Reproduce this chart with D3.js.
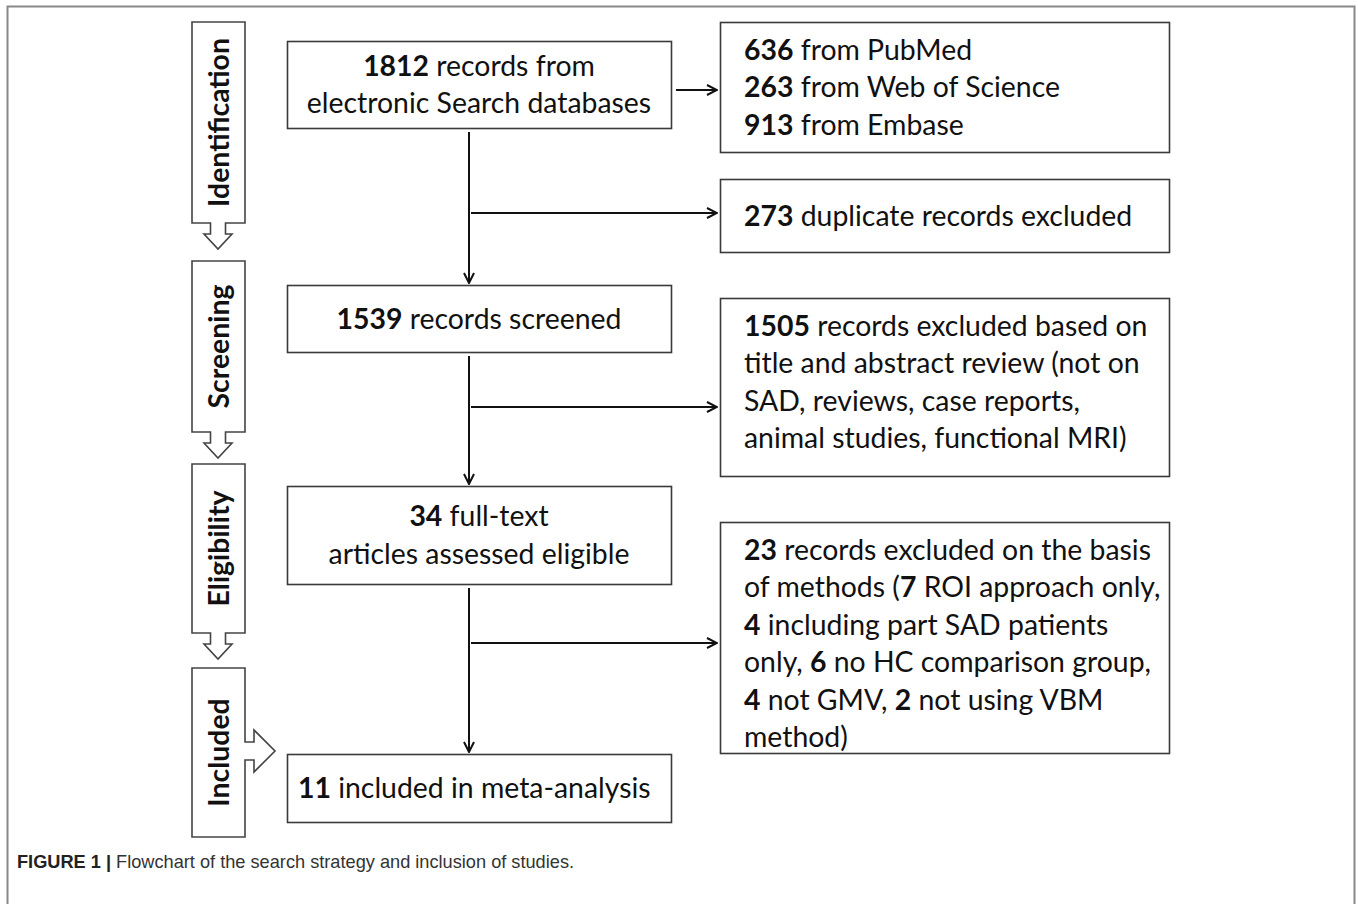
<!DOCTYPE html>
<html>
<head>
<meta charset="utf-8">
<script src="https://cdn.jsdelivr.net/npm/d3@7"></script>
<style>
  body { margin: 0; background: #fff; }
  svg { display: block; }
</style>
</head>
<body>
<div id="chart"></div>
<script>
var width = 1358;
var height = 904;

// stage labels down the left side
var stages = ["Identification", "Screening", "Eligibility", "Included"];

// main flow boxes (** marks bold numbers)
var mainBoxText = [
    ["**1812** records from", "electronic Search databases"],
    ["**1539** records screened"],
    ["**34** full-text", "articles assessed eligible"],
    ["**11** included in meta-analysis"]
];

// side boxes with the exclusions / sources
var sideBoxText = [
    ["**636** from PubMed", "**263** from Web of Science", "**913** from Embase"],
    ["**273** duplicate records excluded"],
    ["**1505** records excluded based on", "title and abstract review (not on",
     "SAD, reviews, case reports,", "animal studies, functional MRI)"],
    ["**23** records excluded on the basis", "of methods (**7** ROI approach only,",
     "**4** including part SAD patients", "only, **6** no HC comparison group,",
     "**4** not GMV, **2** not using VBM", "method)"]
];

var captionBold = "FIGURE 1 |";
var captionText = " Flowchart of the search strategy and inclusion of studies.";

// layout (pixel geometry)
var stageX = [192, 245];
var stageY = [[22, 223], [261, 432], [464, 633], [668, 837]];
var mainX = [287, 671];
var mainY = [[41, 128], [285, 352], [486, 584], [754, 822]];
var sideX = [720, 1169];
var sideY = [[22, 152], [179, 252], [298, 476], [522, 753]];
var flowX = 469;
var branchY = [213, 407, 643];
var lineH = 37.4;
var fontSize = 28.4;
var font = "Lato, 'Open Sans', sans-serif";

var svg = d3.select("#chart")
    .append("svg")
    .attr("width", width)
    .attr("height", height)
    .attr("viewBox", "0 0 " + width + " " + height);

// outer frame
svg.append("path")
    .attr("d", "M7.5," + (height + 5) + "V6.5H1354.5V" + (height + 5))
    .attr("fill", "none")
    .style("stroke", "#888")
    .style("stroke-width", 2);

function addRich(sel, str) {
    str.split("**").forEach(function (part, i) {
        if (!part) return;
        sel.append("tspan")
            .attr("font-weight", i % 2 ? 700 : 400)
            .text(part);
    });
}

function drawBox(x0, x1, y0, y1) {
    svg.append("rect")
        .attr("x", x0 + 0.5).attr("y", y0 + 0.5)
        .attr("width", x1 - x0).attr("height", y1 - y0)
        .attr("fill", "#fff")
        .style("stroke", "#3a3a3a")
        .style("stroke-width", 1.6);
}

function drawLines(lines, x, yFirst, anchor) {
    lines.forEach(function (ln, i) {
        var t = svg.append("text")
            .attr("x", x)
            .attr("y", yFirst + i * lineH)
            .attr("text-anchor", anchor)
            .attr("font-family", font)
            .attr("font-size", fontSize)
            .attr("fill", "#111");
        addRich(t, ln);
    });
}

// stage bars with downward (or rightward) block arrows
stages.forEach(function (name, i) {
    var x0 = stageX[0], x1 = stageX[1], y0 = stageY[i][0], y1 = stageY[i][1];
    var cx = (x0 + x1) / 2 - 0.5;
    var d;
    if (i < stages.length - 1) {
        d = "M" + x0 + "," + y0 + "H" + x1 + "V" + y1 +
            "H" + (cx + 7.5) + "V" + (y1 + 11) + "H" + (cx + 14) +
            "L" + cx + "," + (y1 + 26) + "L" + (cx - 14) + "," + (y1 + 11) +
            "H" + (cx - 7.5) + "V" + y1 + "H" + x0 + "Z";
    } else {
        var my = 751;
        d = "M" + x0 + "," + y0 + "H" + x1 + "V" + (my - 9) +
            "H" + 254 + "V" + (my - 21) + "L" + 275 + "," + my +
            "L" + 254 + "," + (my + 21) + "V" + (my + 9) + "H" + x1 +
            "V" + y1 + "H" + x0 + "Z";
    }
    svg.append("path")
        .attr("d", d)
        .attr("fill", "#fff")
        .style("stroke", "#444")
        .style("stroke-width", 1.6)
        .style("stroke-linejoin", "miter");

    svg.append("text")
        .attr("transform", "translate(" + (x0 + (x1 - x0) / 2 + 10) + "," + ((y0 + y1) / 2) + ") rotate(-90)")
        .attr("text-anchor", "middle")
        .attr("font-family", font)
        .attr("font-weight", 700)
        .attr("font-size", fontSize)
        .attr("fill", "#111")
        .text(name);
});

// arrow marker
svg.append("defs").append("marker")
    .attr("id", "head")
    .attr("viewBox", "0 0 12 12")
    .attr("refX", 11).attr("refY", 6)
    .attr("markerWidth", 12).attr("markerHeight", 12)
    .attr("markerUnits", "userSpaceOnUse")
    .attr("orient", "auto")
    .append("path")
    .attr("d", "M1,1L11,6L1,11")
    .attr("fill", "none")
    .attr("stroke", "#111")
    .attr("stroke-width", 2);

function arrow(x1, y1, x2, y2) {
    svg.append("line")
        .attr("x1", x1).attr("y1", y1)
        .attr("x2", x2).attr("y2", y2)
        .attr("marker-end", "url(#head)")
        .style("stroke", "#111")
        .style("stroke-width", 2);
}

// vertical flow and side branches
for (var i = 0; i < mainY.length - 1; i++) {
    arrow(flowX, mainY[i][1] + 4, flowX, mainY[i + 1][0] - 2);
    arrow(flowX + 2, branchY[i], sideX[0] - 3, branchY[i]);
}
arrow(mainX[1] + 5, 90, sideX[0] - 3, 90);

// main boxes
mainBoxText.forEach(function (lines, i) {
    drawBox(mainX[0], mainX[1], mainY[i][0], mainY[i][1]);
    var mid = (mainY[i][0] + mainY[i][1]) / 2;
    var first = mid + 10 - (lines.length - 1) * lineH / 2;
    if (i === 3) {
        drawLines(lines, mainX[0] + 11, first, "start");
    } else {
        drawLines(lines, (mainX[0] + mainX[1]) / 2, first, "middle");
    }
});

// side boxes
sideBoxText.forEach(function (lines, i) {
    drawBox(sideX[0], sideX[1], sideY[i][0], sideY[i][1]);
    var first = sideY[i][0] + 38;
    if (lines.length === 1) first = (sideY[i][0] + sideY[i][1]) / 2 + 10;
    drawLines(lines, sideX[0] + 24, first, "start");
});

// caption
var cap = svg.append("text")
    .attr("x", 17)
    .attr("y", 868)
    .attr("font-family", "'Liberation Sans', Arial, sans-serif")
    .attr("font-size", 18.2)
    .attr("fill", "#333");
cap.append("tspan").attr("font-weight", 700).attr("fill", "#222").text(captionBold);
cap.append("tspan").text(captionText);
</script>
</body>
</html>
